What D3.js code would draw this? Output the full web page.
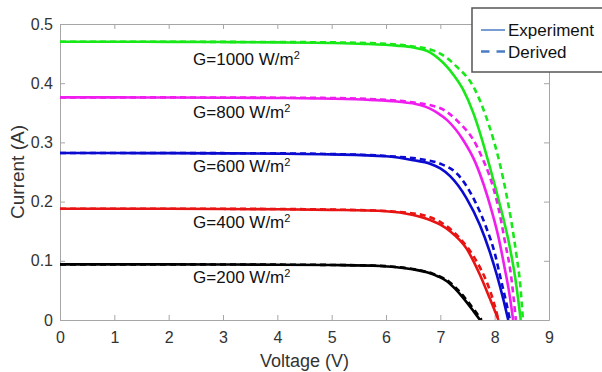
<!DOCTYPE html>
<html>
<head>
<meta charset="utf-8">
<script src="https://cdn.jsdelivr.net/npm/d3@7"></script>
<style>
  html, body { margin: 0; padding: 0; background: #fff; }
  svg { display: block; font-family: "Liberation Sans", Arial, sans-serif; }
</style>
</head>
<body>
<svg id="chart" width="602" height="372"></svg>
<script>
// ---------------- data ----------------
const xTicks = [0, 1, 2, 3, 4, 5, 6, 7, 8, 9];
const yTicks = [0, 0.1, 0.2, 0.3, 0.4, 0.5];
const xTickLabels = ["0", "1", "2", "3", "4", "5", "6", "7", "8", "9"];
const yTickLabels = ["0", "0.1", "0.2", "0.3", "0.4", "0.5"];

const irradiance = ["G=1000 W/m", "G=800 W/m", "G=600 W/m", "G=400 W/m", "G=200 W/m"];
const seriesColors = ["#18e818", "#ef1eef", "#0b0bd0", "#e81313", "#000000"];

// G = 1000
const vExp1000 = [0, 1, 2, 3, 4, 5, 5.6, 6.2, 6.5, 6.65, 6.81, 6.96, 7.12, 7.25, 7.42, 7.61, 7.76, 7.9, 8.03, 8.15, 8.27, 8.38, 8.48];
const iExp1000 = [0.470, 0.470, 0.4698, 0.4695, 0.469, 0.468, 0.4665, 0.4635, 0.4605, 0.4575, 0.452, 0.442, 0.428, 0.413, 0.389, 0.349, 0.307, 0.262, 0.218, 0.175, 0.127, 0.070, 0];
const vDer1000 = [0, 1, 2, 3, 4, 5, 5.9, 6.5, 6.88, 7.1, 7.3, 7.61, 7.82, 7.98, 8.1, 8.21, 8.31, 8.4, 8.47, 8.52];
const iDer1000 = [0.470, 0.470, 0.470, 0.4698, 0.4695, 0.469, 0.467, 0.462, 0.455, 0.444, 0.428, 0.394, 0.349, 0.304, 0.262, 0.215, 0.165, 0.110, 0.060, 0];
// G = 800
const vExp800 = [0, 1, 2, 3, 4, 5, 5.7, 6.2, 6.63, 6.81, 6.96, 7.12, 7.42, 7.65, 7.8, 7.94, 8.07, 8.19, 8.27, 8.34];
const iExp800 = [0.376, 0.376, 0.3758, 0.3755, 0.375, 0.3738, 0.3718, 0.3690, 0.3630, 0.3570, 0.3490, 0.3380, 0.304, 0.265, 0.228, 0.186, 0.140, 0.085, 0.045, 0];
const vDer800 = [0, 1, 2, 3, 4, 5, 5.8, 6.38, 6.99, 7.36, 7.61, 7.79, 7.9, 8.07, 8.19, 8.3, 8.39];
const iDer800 = [0.376, 0.376, 0.376, 0.3758, 0.3755, 0.375, 0.3728, 0.369, 0.358, 0.332, 0.304, 0.270, 0.245, 0.189, 0.132, 0.076, 0];
// G = 600
const vExp600 = [0, 1, 2, 3, 4, 5, 6, 6.5, 6.81, 7.0, 7.18, 7.48, 7.73, 7.91, 8.04, 8.17, 8.25];
const iExp600 = [0.282, 0.282, 0.2818, 0.2815, 0.281, 0.2798, 0.2765, 0.270, 0.264, 0.256, 0.243, 0.206, 0.160, 0.115, 0.076, 0.031, 0];
const vDer600 = [0, 1, 2, 3, 4, 5, 6, 6.75, 7.0, 7.33, 7.64, 7.85, 8.01, 8.11, 8.21, 8.28];
const iDer600 = [0.282, 0.282, 0.282, 0.2818, 0.2815, 0.2803, 0.277, 0.270, 0.264, 0.245, 0.200, 0.155, 0.110, 0.070, 0.031, 0];
// G = 400
const vExp400 = [0, 1, 2, 3, 4, 5, 6, 6.5, 6.81, 7.0, 7.18, 7.48, 7.73, 7.91, 8.07];
const iExp400 = [0.188, 0.188, 0.1878, 0.1875, 0.187, 0.186, 0.1838, 0.1775, 0.169, 0.161, 0.150, 0.121, 0.076, 0.0366, 0];
const vDer400 = [0, 1, 2, 3, 4, 5, 6, 6.4, 6.69, 6.99, 7.36, 7.67, 7.85, 7.98, 8.07];
const iDer400 = [0.188, 0.188, 0.188, 0.1878, 0.1875, 0.1866, 0.184, 0.181, 0.177, 0.166, 0.138, 0.0986, 0.065, 0.031, 0];
// G = 200
const vExp200 = [0, 1, 2, 3, 4, 5, 5.9, 6.2, 6.5, 6.81, 6.96, 7.12, 7.27, 7.42, 7.61, 7.73];
const iExp200 = [0.094, 0.094, 0.0939, 0.0937, 0.0934, 0.0928, 0.0912, 0.0890, 0.0856, 0.079, 0.0735, 0.0655, 0.053, 0.0375, 0.015, 0];
const vDer200 = [0, 1, 2, 3, 4, 5, 5.9, 6.23, 6.53, 6.84, 6.99, 7.15, 7.3, 7.45, 7.64, 7.76];
const iDer200 = [0.094, 0.094, 0.094, 0.0938, 0.0935, 0.093, 0.0914, 0.0892, 0.0856, 0.079, 0.0735, 0.0655, 0.053, 0.0375, 0.015, 0];

// label anchor points (data coordinates)
const labelV = [2.45, 2.45, 2.45, 2.45, 2.45];
const labelI = [0.431, 0.341, 0.250, 0.155, 0.0625];

const legendLabels = ["Experiment", "Derived"];

// ---------------- drawing ----------------
const svg = d3.select("#chart");
const W = 602, H = 372;
const m = { left: 60, right: 53, top: 24, bottom: 52 };
const pw = W - m.left - m.right;   // 489
const ph = H - m.top - m.bottom;   // 296

const x = d3.scaleLinear().domain([0, 9]).range([m.left, m.left + pw]);
const y = d3.scaleLinear().domain([0, 0.5]).range([m.top + ph, m.top]);

svg.append("rect").attr("width", W).attr("height", H).attr("fill", "#fff");

const axisColor = "#a6a6a6";
const textColor = "#333";

function styleAxis(g) {
  g.selectAll("path.domain").attr("stroke", axisColor).attr("stroke-width", 1);
  g.selectAll(".tick line").attr("stroke", axisColor);
  g.selectAll(".tick text").attr("fill", textColor).attr("font-size", 16)
    .attr("font-family", "'Liberation Sans', Arial, sans-serif");
}

// bottom axis
svg.append("g").attr("transform", `translate(0,${m.top + ph})`)
  .call(d3.axisBottom(x).tickValues(xTicks).tickFormat((d, i) => xTickLabels[i])
    .tickSizeInner(-5).tickSizeOuter(0).tickPadding(12))
  .call(styleAxis);
// top axis
svg.append("g").attr("transform", `translate(0,${m.top})`)
  .call(d3.axisTop(x).tickValues(xTicks).tickFormat("").tickSizeInner(-5).tickSizeOuter(0))
  .call(styleAxis);
// left axis
svg.append("g").attr("transform", `translate(${m.left},0)`)
  .call(d3.axisLeft(y).tickValues(yTicks).tickFormat((d, i) => yTickLabels[i])
    .tickSizeInner(-5).tickSizeOuter(0).tickPadding(7))
  .call(styleAxis);
// right axis
svg.append("g").attr("transform", `translate(${m.left + pw},0)`)
  .call(d3.axisRight(y).tickValues(yTicks).tickFormat("").tickSizeInner(-5).tickSizeOuter(0))
  .call(styleAxis);

// clip
svg.append("clipPath").attr("id", "clip").append("rect")
  .attr("x", m.left).attr("y", m.top - 3).attr("width", pw).attr("height", ph + 3);

const line = d3.line().x(d => x(d[0])).y(d => y(d[1])).curve(d3.curveMonotoneX);
const zip = (vs, is) => vs.map((v, i) => [v, is[i]]);

const expSeries = [zip(vExp1000, iExp1000), zip(vExp800, iExp800), zip(vExp600, iExp600), zip(vExp400, iExp400), zip(vExp200, iExp200)];
const derSeries = [zip(vDer1000, iDer1000), zip(vDer800, iDer800), zip(vDer600, iDer600), zip(vDer400, iDer400), zip(vDer200, iDer200)];

const plot = svg.append("g").attr("clip-path", "url(#clip)");
expSeries.forEach((s, k) => {
  plot.append("path").attr("d", line(s)).attr("fill", "none")
    .attr("stroke", seriesColors[k]).attr("stroke-width", 2.6);
});
derSeries.forEach((s, k) => {
  plot.append("path").attr("d", line(s)).attr("fill", "none")
    .attr("stroke", seriesColors[k]).attr("stroke-width", 2.6)
    .attr("stroke-dasharray", "6,4");
});

// irradiance labels
irradiance.forEach((t, k) => {
  const tx = svg.append("text").attr("x", x(labelV[k])).attr("y", y(labelI[k]))
    .attr("font-size", 17).attr("fill", "#111");
  tx.append("tspan").text(t);
  tx.append("tspan").attr("dy", -6).attr("font-size", 11).text("2");
});

// axis titles
svg.append("text").attr("x", x(4.5)).attr("y", 367).attr("text-anchor", "middle")
  .attr("font-size", 18).attr("fill", textColor).text("Voltage (V)");
svg.append("text").attr("transform", `translate(24,${y(0.25)}) rotate(-90)`)
  .attr("text-anchor", "middle").attr("font-size", 19).attr("fill", textColor).text("Current (A)");

// legend
const lg = svg.append("g");
lg.append("rect").attr("x", 472).attr("y", 8).attr("width", 150).attr("height", 64)
  .attr("fill", "#fff").attr("stroke", "#555").attr("stroke-width", 1.5);
const legendColor = "#4a7cc4";
lg.append("line").attr("x1", 481).attr("x2", 505).attr("y1", 30).attr("y2", 30)
  .attr("stroke", legendColor).attr("stroke-width", 1.5);
lg.append("line").attr("x1", 481).attr("x2", 505).attr("y1", 51.5).attr("y2", 51.5)
  .attr("stroke", legendColor).attr("stroke-width", 2.6).attr("stroke-dasharray", "8.5,7");
lg.append("text").attr("x", 508).attr("y", 36).attr("font-size", 17).attr("fill", "#111").text(legendLabels[0]);
lg.append("text").attr("x", 508).attr("y", 58).attr("font-size", 17).attr("fill", "#111").text(legendLabels[1]);
</script>
</body>
</html>
